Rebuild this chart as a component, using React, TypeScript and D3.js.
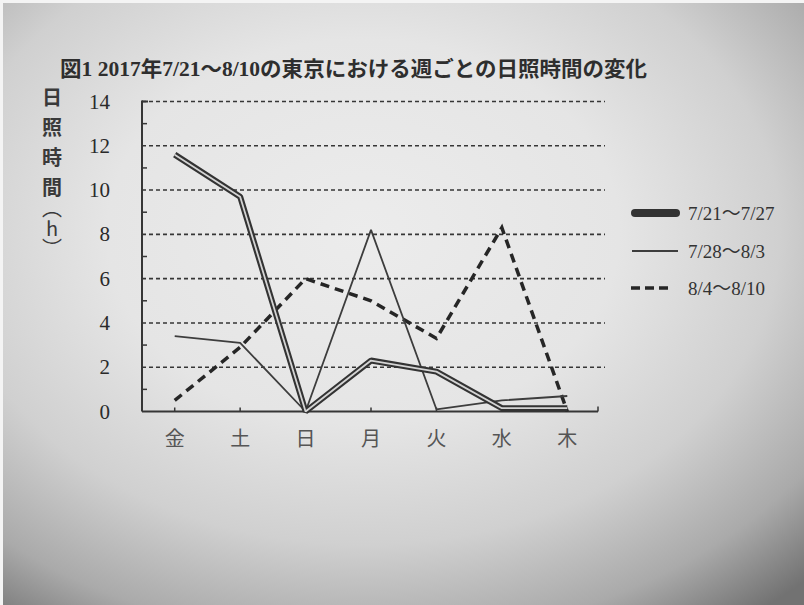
import React from 'react';
import * as d3 from 'd3';

// 曜日（横軸）
const days = ['金', '土', '日', '月', '火', '水', '木'];
// 週ごとの日照時間 (h)
const week1 = [11.6, 9.7, 0, 2.3, 1.8, 0.15, 0.15];
const week2 = [3.4, 3.1, 0, 8.2, 0.1, 0.5, 0.7];
const week3 = [0.5, 2.9, 6.0, 5.0, 3.3, 8.3, 0];
const seriesNames = ['7/21～7/27', '7/28～8/3', '8/4～8/10'];
const yTicks = [0, 2, 4, 6, 8, 10, 12, 14];
const yMinorTicks = [1, 3, 5, 7, 9, 11, 13];
const yTitle = '日照時間';
const yUnit = '（h）';

const W = 804;
const H = 605;
const plot = { left: 142, right: 600, top: 101.5, bottom: 411.5, gridEnd: 605 };
const ink = '#363636';

const App: React.FC = () => {
  const x = d3.scalePoint<string>().domain(days).range([plot.left, plot.right]).padding(0.5);
  const y = d3.scaleLinear().domain([0, 14]).range([plot.bottom, plot.top]);

  const line = d3
    .line<number>()
    .x((_, i) => x(days[i]) as number)
    .y(d => y(d));

  const serif = '"Liberation Serif", "Noto Sans CJK JP", serif';
  const gothic = '"Noto Sans CJK JP", sans-serif';
  const legendY = [213, 251, 288];
  const vertical: React.CSSProperties = { writingMode: 'vertical-rl', textOrientation: 'upright' } as React.CSSProperties;

  return (
    <div style={{ position: 'fixed', left: 0, top: 0 }}>
      <svg width={W} height={H} style={{ display: 'block' }}>
        <defs>
          <radialGradient id="bg" cx="0.45" cy="0.38" r="0.8">
            <stop offset="0%" stopColor="#ececec" />
            <stop offset="40%" stopColor="#e5e5e5" />
            <stop offset="65%" stopColor="#d0d0d0" />
            <stop offset="85%" stopColor="#aaaaaa" />
            <stop offset="100%" stopColor="#727272" />
          </radialGradient>
        </defs>
        <rect x={0} y={0} width={W} height={H} fill="#f4f4f4" />
        <rect x={3} y={3} width={W - 3} height={H - 3} fill="url(#bg)" />

        {/* タイトル */}
        <text
          x={60}
          y={76}
          fontFamily={serif}
          fontSize={21}
          fontWeight="bold"
          fill="#2e2e2e"
          textLength={587}
          lengthAdjust="spacingAndGlyphs"
        >
          図1 2017年7/21～8/10の東京における週ごとの日照時間の変化
        </text>

        {/* 縦軸タイトル（縦書き） */}
        <text x={52} y={87} fontFamily={gothic} fontSize={20} fontWeight="bold" fill="#3a3a3a" letterSpacing={10} style={vertical}>
          {yTitle}
        </text>
        <text x={52} y={198} fontFamily={gothic} fontSize={20} fill="#3a3a3a" style={vertical}>
          {yUnit}
        </text>

        {/* 目盛りラベル */}
        {yTicks.map(t => (
          <text key={t} x={110} y={y(t) + 7} textAnchor="end" fontFamily={serif} fontSize={21} fill="#2a2a2a">
            {t}
          </text>
        ))}

        {/* グリッド線 */}
        {yTicks.filter(t => t > 0).map(t => (
          <line key={t} x1={plot.left} x2={plot.gridEnd} y1={y(t)} y2={y(t)} stroke={ink} strokeWidth={1.6} strokeDasharray="4 3" />
        ))}
        {yMinorTicks.map(t => (
          <line key={t} x1={plot.left} x2={plot.left + 5} y1={y(t)} y2={y(t)} stroke={ink} strokeWidth={1.5} />
        ))}

        {/* 軸 */}
        <line x1={plot.left} x2={plot.left} y1={plot.top - 1} y2={plot.bottom} stroke={ink} strokeWidth={2} />
        <line x1={plot.left} x2={plot.left + 6} y1={plot.top} y2={plot.top} stroke={ink} strokeWidth={2} />
        <line x1={plot.left} x2={598} y1={plot.bottom} y2={plot.bottom} stroke={ink} strokeWidth={2} />
        {days.map(d => (
          <line key={d} x1={x(d)} x2={x(d)} y1={plot.bottom} y2={plot.bottom - 4} stroke={ink} strokeWidth={1.5} />
        ))}
        <line x1={598} x2={598} y1={plot.bottom} y2={plot.bottom - 5} stroke={ink} strokeWidth={1.5} />

        {/* 横軸ラベル */}
        {days.map(d => (
          <text key={d} x={x(d)} y={446} textAnchor="middle" fontFamily={gothic} fontSize={20} fill="#555">
            {d}
          </text>
        ))}

        {/* 系列 */}
        <path d={line(week3) || ''} fill="none" stroke="#262626" strokeWidth={3.5} strokeDasharray="9 6" />
        <path d={line(week2) || ''} fill="none" stroke="#3d3d3d" strokeWidth={1.8} strokeLinejoin="bevel" />
        <path d={line(week1) || ''} fill="none" stroke="#333" strokeWidth={6} strokeLinejoin="bevel" />
        <path d={line(week1) || ''} fill="none" stroke="#d4d4d4" strokeWidth={1.8} strokeLinejoin="bevel" />

        {/* 凡例 */}
        <line x1={635} x2={676} y1={legendY[0]} y2={legendY[0]} stroke="#333" strokeWidth={8} strokeLinecap="round" />
        <line x1={632} x2={678} y1={legendY[1]} y2={legendY[1]} stroke="#3d3d3d" strokeWidth={1.8} />
        <line x1={631} x2={670} y1={legendY[2]} y2={legendY[2]} stroke="#262626" strokeWidth={3.5} strokeDasharray="9 5" />
        {seriesNames.map((n, i) => (
          <text key={n} x={688} y={legendY[i] + 7} fontFamily={serif} fontSize={19} fill="#333">
            {n}
          </text>
        ))}
      </svg>
    </div>
  );
};

export default App;
